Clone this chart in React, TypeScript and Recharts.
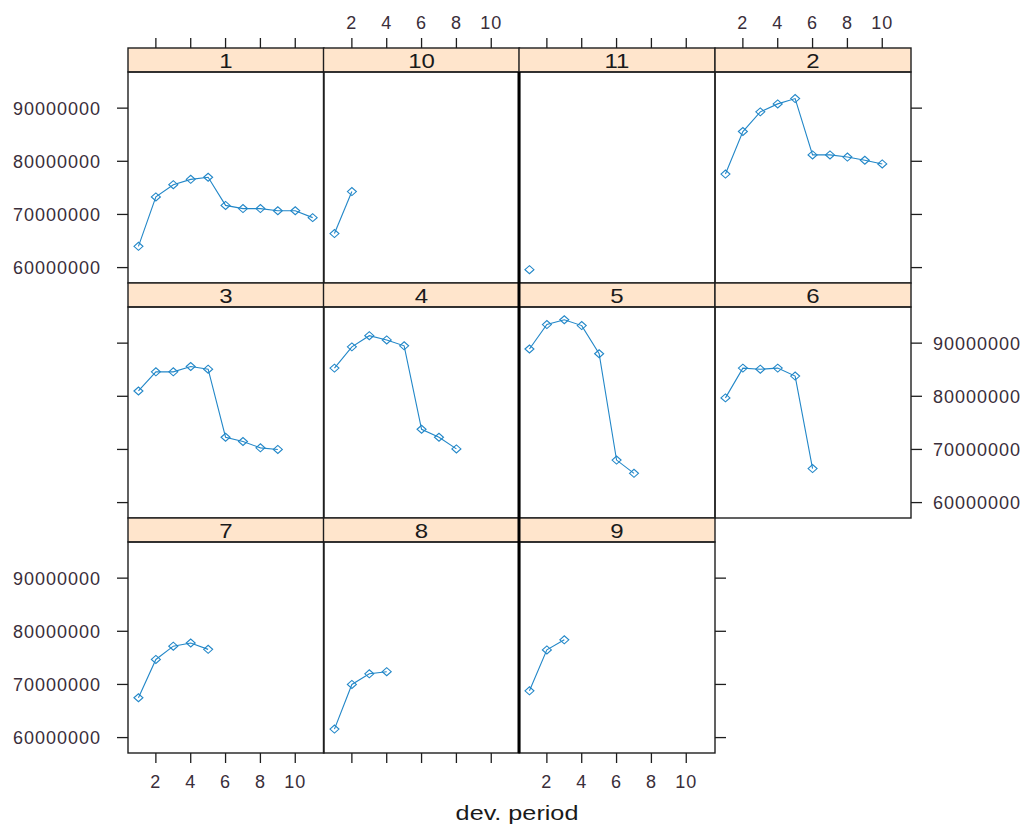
import React from "react";
import { LineChart, Line, XAxis, YAxis } from "recharts";

// ---------- data ----------
const panelLabels = ["1", "10", "11", "2", "3", "4", "5", "6", "7", "8", "9"];
const devPeriods = [1, 2, 3, 4, 5, 6, 7, 8, 9, 10, 11];
const xTicks = [2, 4, 6, 8, 10];
const yTicks = [60000000, 70000000, 80000000, 90000000];

const origin1 = [64000000, 73300000, 75600000, 76600000, 77000000, 71700000, 71100000, 71100000, 70700000, 70700000, 69400000];
const origin2 = [77600000, 85600000, 89300000, 90800000, 91800000, 81200000, 81200000, 80800000, 80200000, 79500000];
const origin3 = [81000000, 84600000, 84600000, 85600000, 85100000, 72300000, 71500000, 70300000, 70000000];
const origin4 = [85300000, 89300000, 91400000, 90600000, 89500000, 73800000, 72300000, 70100000];
const origin5 = [88900000, 93500000, 94400000, 93300000, 88000000, 68000000, 65500000];
const origin6 = [79700000, 85300000, 85100000, 85300000, 83800000, 66400000];
const origin7 = [67500000, 74700000, 77200000, 77800000, 76600000];
const origin8 = [61600000, 70000000, 72000000, 72400000];
const origin9 = [68800000, 76500000, 78400000];
const origin10 = [66400000, 74300000];
const origin11 = [59600000];

const seriesByLabel: Record<string, number[]> = {
  "1": origin1, "2": origin2, "3": origin3, "4": origin4, "5": origin5, "6": origin6,
  "7": origin7, "8": origin8, "9": origin9, "10": origin10, "11": origin11,
};

// ---------- layout ----------
const COL_LEFT = [128, 323.5, 519, 715];
const PANEL_W = 196;
const STRIP_TOP = [48, 283, 518];
const STRIP_H = 24;
const PANEL_H = 211;
const X_DOMAIN: [number, number] = [0.4, 11.65];
const Y_MIN = 57100000;
const Y_MAX = 96800000;
const Y_MAX_EXT = Y_MAX + (STRIP_H / PANEL_H) * (Y_MAX - Y_MIN);

const AX_W = 130;
const TOP_H = 45;
const BOT_H = 50;

const LINE_COLOR = "#2287c8";
const TEXT_COLOR = "#3a2e3a";
const BORDER = "#1e1e1e";
const FONT = "'Liberation Sans', Arial, sans-serif";

const labelStyle = { fill: TEXT_COLOR, fontSize: 18, fontFamily: FONT, letterSpacing: 1 };

function makeTick(show: boolean, side: "left" | "right" | "top" | "bottom") {
  return (props: any) => {
    const { x, y, payload } = props;
    if (!show) return <g />;
    if (side === "left")
      return <text x={x} y={y} dy="0.36em" textAnchor="end" {...labelStyle}>{payload.value}</text>;
    if (side === "right")
      return <text x={x} y={y} dy="0.36em" textAnchor="start" {...labelStyle}>{payload.value}</text>;
    if (side === "top")
      return <text x={x} y={y} textAnchor="middle" {...labelStyle}>{payload.value}</text>;
    return <text x={x} y={y} dy="0.72em" textAnchor="middle" {...labelStyle}>{payload.value}</text>;
  };
}

const Diamond = (props: any) => {
  const { cx, cy } = props;
  if (cx == null || cy == null) return <g />;
  const w = 4.5, h = 4;
  return (
    <path
      d={`M${cx - w},${cy} L${cx},${cy - h} L${cx + w},${cy} L${cx},${cy + h} Z`}
      fill="none"
      stroke={LINE_COLOR}
      strokeWidth={1.1}
    />
  );
};

const NCOLS = 4;
const NROWS = 3;

function Panel({ idx }: { idx: number }) {
  const label = panelLabels[idx];
  const row = Math.floor(idx / NCOLS);
  const col = idx % NCOLS;
  const values = seriesByLabel[label];
  const data = values.map((v, i) => ({ x: devPeriods[i], v }));

  const lastInRow = row === NROWS - 1 ? (panelLabels.length - 1) % NCOLS : NCOLS - 1;
  const topTicks = row === 0;
  const topLabels = topTicks && col % 2 === 1;
  const bottomTicks = row === NROWS - 1;
  const bottomLabels = bottomTicks && col % 2 === 0;
  const leftTicks = col === 0;
  const leftLabels = leftTicks && row % 2 === 0;
  const rightTicks = col === lastInRow;
  const rightLabels = rightTicks && row % 2 === 1;

  const width = AX_W + PANEL_W + AX_W;
  const height = TOP_H + STRIP_H + PANEL_H + BOT_H;
  const tl = { stroke: BORDER, strokeWidth: 1.3 };

  return (
    <div style={{ position: "absolute", left: COL_LEFT[col] - AX_W, top: STRIP_TOP[row] - TOP_H }}>
      <LineChart width={width} height={height} data={data} margin={{ top: 0, right: 0, bottom: 0, left: 0 }}>
        <XAxis
          xAxisId="bottom"
          orientation="bottom"
          type="number"
          dataKey="x"
          domain={X_DOMAIN}
          ticks={xTicks}
          interval={0}
          allowDataOverflow
          height={BOT_H}
          axisLine={false}
          tickLine={bottomTicks ? tl : false}
          tickSize={10}
          tickMargin={12}
          tick={makeTick(bottomLabels, "bottom")}
        />
        <XAxis
          xAxisId="top"
          orientation="top"
          type="number"
          dataKey="x"
          domain={X_DOMAIN}
          ticks={xTicks}
          interval={0}
          allowDataOverflow
          height={TOP_H}
          axisLine={false}
          tickLine={topTicks ? tl : false}
          tickSize={10}
          tickMargin={9}
          tick={makeTick(topLabels, "top")}
        />
        <YAxis
          yAxisId="left"
          orientation="left"
          type="number"
          domain={[Y_MIN, Y_MAX_EXT]}
          ticks={yTicks}
          interval={0}
          allowDataOverflow
          width={AX_W}
          axisLine={false}
          tickLine={leftTicks ? tl : false}
          tickSize={11}
          tickMargin={16}
          tick={makeTick(leftLabels, "left")}
        />
        <YAxis
          yAxisId="right"
          orientation="right"
          type="number"
          domain={[Y_MIN, Y_MAX_EXT]}
          ticks={yTicks}
          interval={0}
          allowDataOverflow
          width={AX_W}
          axisLine={false}
          tickLine={rightTicks ? tl : false}
          tickSize={11}
          tickMargin={11}
          tick={makeTick(rightLabels, "right")}
        />
        <Line
          xAxisId="bottom"
          yAxisId="left"
          type="linear"
          dataKey="v"
          stroke={LINE_COLOR}
          strokeWidth={1.1}
          dot={<Diamond />}
          activeDot={false}
          isAnimationActive={false}
        />
      </LineChart>
    </div>
  );
}

export default function App() {
  return (
    <div style={{ position: "absolute", left: 0, top: 0, width: 1027, height: 827, background: "#fff", overflow: "hidden" }}>
      {panelLabels.map((_, i) => (
        <Panel key={i} idx={i} />
      ))}
      <svg width={1027} height={827} style={{ position: "absolute", left: 0, top: 0, pointerEvents: "none" }}>
        {panelLabels.map((label, i) => {
          const row = Math.floor(i / NCOLS);
          const col = i % NCOLS;
          const x = COL_LEFT[col];
          const y = STRIP_TOP[row];
          return (
            <g key={label}>
              <rect x={x} y={y} width={PANEL_W} height={STRIP_H} fill="#FFE5CC" stroke={BORDER} strokeWidth={1.4} />
              <text
                transform={`translate(${x + PANEL_W / 2},${y + 20}) scale(1.2,1)`}
                textAnchor="middle"
                fontSize={20}
                fontFamily={FONT}
                fill="#1a1a1a"
              >
                {label}
              </text>
              <rect x={x} y={y + STRIP_H} width={PANEL_W} height={PANEL_H} fill="none" stroke={BORDER} strokeWidth={1.4} />
            </g>
          );
        })}
        <line x1={519} x2={519} y1={STRIP_TOP[0] + STRIP_H} y2={STRIP_TOP[2] + STRIP_H + PANEL_H} stroke="#000" strokeWidth={3} />
        <text
          transform="translate(517,820) scale(1.2,1)"
          textAnchor="middle"
          fontSize={21}
          fontFamily={FONT}
          fill="#1a1a1a"
        >
          dev. period
        </text>
      </svg>
    </div>
  );
}
